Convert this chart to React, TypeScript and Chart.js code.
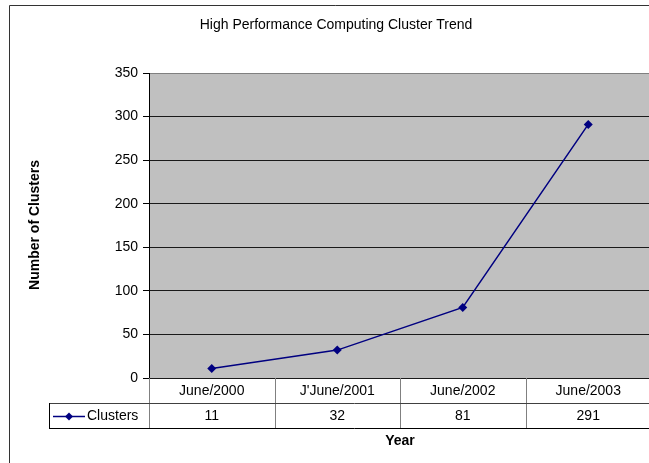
import React, { useEffect, useRef } from "react";
import { Chart, registerables } from "chart.js";

Chart.register(...registerables);

const categories = ["June/2000", "J'June/2001", "June/2002", "June/2003"];
const clusters = [11, 32, 81, 291];
const seriesName = "Clusters";
const yTicks = [0, 50, 100, 150, 200, 250, 300, 350];
const chartTitle = "High Performance Computing Cluster Trend";
const xTitle = "Year";
const yTitle = "Number of Clusters";

const FONT = "'Liberation Sans', Arial, sans-serif";
const NAVY = "#000080";

const decorPlugin = {
  id: "decor",
  beforeDraw(chart: any) {
    const { ctx, chartArea } = chart;
    ctx.save();
    ctx.fillStyle = "#ffffff";
    ctx.fillRect(0, 0, chart.width, chart.height);
    ctx.fillStyle = "#C0C0C0";
    ctx.fillRect(chartArea.left, chartArea.top, chartArea.right - chartArea.left, chartArea.bottom - chartArea.top);
    ctx.restore();
  },
  afterDraw(chart: any) {
    const { ctx, chartArea } = chart;
    const xs = chart.scales.x;
    const left = chartArea.left;
    const right = chartArea.right;
    const n = categories.length;
    const colW = (right - left) / n;
    const row1Top = chartArea.bottom;
    const row1Bot = row1Top + 25;
    const row2Bot = row1Bot + 25;
    const legendLeft = 49;
    ctx.save();
    // outer border
    ctx.strokeStyle = "#333333";
    ctx.lineWidth = 1;
    ctx.beginPath();
    ctx.moveTo(9.5, chart.height + 2);
    ctx.lineTo(9.5, 5.5);
    ctx.lineTo(chart.width + 2, 5.5);
    ctx.stroke();

    // table column separators
    ctx.strokeStyle = "#808080";
    for (let i = 1; i <= n; i++) {
      const x = Math.round(left + i * colW) + 0.5;
      ctx.beginPath();
      ctx.moveTo(x, row1Top);
      ctx.lineTo(x, row2Bot);
      ctx.stroke();
    }
    ctx.beginPath();
    ctx.moveTo(Math.round(left) + 0.5, row1Top);
    ctx.lineTo(Math.round(left) + 0.5, row2Bot);
    ctx.stroke();
    // row lines
    ctx.strokeStyle = "#404040";
    ctx.beginPath();
    ctx.moveTo(legendLeft, row1Bot + 0.5);
    ctx.lineTo(chart.width, row1Bot + 0.5);
    ctx.stroke();
    ctx.strokeStyle = "#000000";
    ctx.beginPath();
    ctx.moveTo(legendLeft, row2Bot + 0.5);
    ctx.lineTo(chart.width, row2Bot + 0.5);
    ctx.moveTo(legendLeft + 0.5, row1Bot);
    ctx.lineTo(legendLeft + 0.5, row2Bot + 1);
    ctx.stroke();

    // header labels and values
    ctx.fillStyle = "#000000";
    ctx.font = `14px ${FONT}`;
    ctx.textAlign = "center";
    ctx.textBaseline = "middle";
    categories.forEach((c, i) => {
      const x = xs.getPixelForValue(i);
      ctx.fillText(c, x, (row1Top + row1Bot) / 2 + 1);
      ctx.fillText(String(clusters[i]), x, (row1Bot + row2Bot) / 2 + 1);
    });

    // legend key
    const ly = Math.round((row1Bot + row2Bot) / 2) + 0.5;
    ctx.strokeStyle = NAVY;
    ctx.lineWidth = 1.5;
    ctx.beginPath();
    ctx.moveTo(53, ly);
    ctx.lineTo(85, ly);
    ctx.stroke();
    ctx.fillStyle = NAVY;
    ctx.beginPath();
    ctx.moveTo(69, ly - 4);
    ctx.lineTo(73, ly);
    ctx.lineTo(69, ly + 4);
    ctx.lineTo(65, ly);
    ctx.closePath();
    ctx.fill();
    ctx.fillStyle = "#000000";
    ctx.textAlign = "left";
    ctx.fillText(seriesName, 87, (row1Bot + row2Bot) / 2 + 1);

    // titles
    ctx.textAlign = "center";
    ctx.font = `14px ${FONT}`;
    ctx.fillText(chartTitle, 336, 25);
    ctx.font = `bold 14px ${FONT}`;
    ctx.fillText(xTitle, (left + right) / 2, 441);
    ctx.translate(35, 225);
    ctx.rotate(-Math.PI / 2);
    ctx.fillText(yTitle, 0, 0);
    ctx.restore();
  },
};

export default function App() {
  const ref = useRef<HTMLCanvasElement>(null);
  useEffect(() => {
    if (!ref.current) return;
    const chart = new Chart(ref.current, {
      type: "line",
      data: {
        labels: categories,
        datasets: [
          {
            label: seriesName,
            data: clusters,
            borderColor: NAVY,
            backgroundColor: NAVY,
            borderWidth: 1.5,
            pointStyle: "rectRot",
            pointRadius: 4.5,
            pointBorderWidth: 0,
            pointBackgroundColor: NAVY,
            tension: 0,
          },
        ],
      },
      options: {
        animation: false,
        responsive: false,
        devicePixelRatio: 1,
        layout: { padding: { top: 73, right: 9, bottom: 85, left: 0 } },
        plugins: { legend: { display: false }, title: { display: false }, tooltip: { enabled: false } },
        scales: {
          x: { type: "category", display: false, offset: true },
          y: {
            min: 0,
            max: 350,
            afterBuildTicks(scale: any) {
              scale.ticks = yTicks.map((v) => ({ value: v }));
            },
            afterFit(scale: any) {
              scale.width = 149;
            },
            ticks: {
              font: { family: FONT, size: 14 },
              color: "#000000",
              padding: 5,
            },
            grid: {
              color: (c: any) => (c.tick && c.tick.value === 350 ? "#808080" : "#1a1a1a"),
              tickColor: "#000000",
              tickLength: 6,
              lineWidth: 1,
            },
            border: { display: true, color: "#000000", width: 1 },
          },
        },
      },
      plugins: [decorPlugin],
    });
    return () => chart.destroy();
  }, []);
  return (
    <div style={{ position: "fixed", left: 0, top: 0, width: 649, height: 463, overflow: "hidden", background: "#fff" }}>
      <canvas ref={ref} width={660} height={463} style={{ display: "block", width: 660, height: 463 }} />
    </div>
  );
}
